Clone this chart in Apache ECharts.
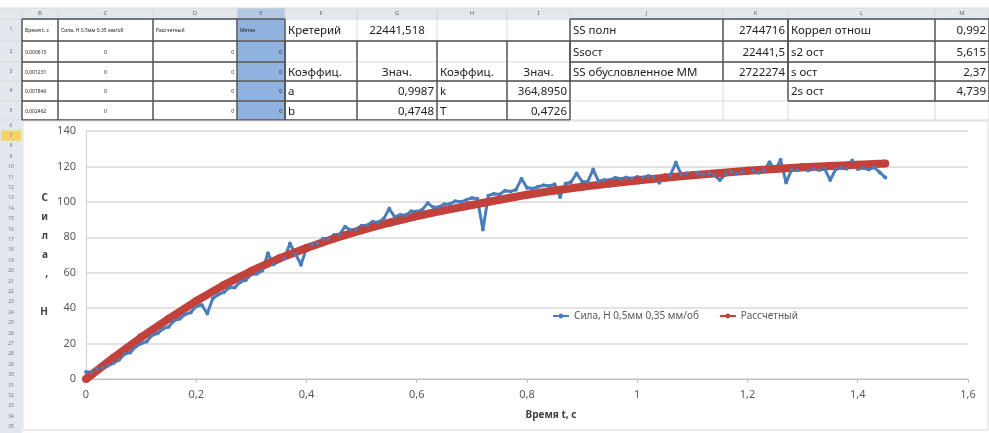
<!DOCTYPE html>
<html>
<head>
<meta charset="utf-8">
<script src="https://cdn.jsdelivr.net/npm/echarts@6/dist/echarts.min.js"></script>
<style>
  html, body { margin: 0; padding: 0; background: #fff; }
  #main { width: 989px; height: 433px; }
</style>
</head>
<body>
<div id="main"></div>
<script>
// measured force, H 0,5mm 0,35 mm/rev  [t, F]
var forceMeasured = [
  [0,4],[0.01,4],[0.02,5.8],[0.03,6.2],[0.04,7.6],[0.05,9],[0.06,10.8],[0.07,14.1],[0.08,14.9],[0.09,18.2],
  [0.1,20],[0.11,21.1],[0.12,24.7],[0.13,25.8],[0.14,28.4],[0.15,29.5],[0.16,33],[0.17,34],[0.18,36.5],[0.19,37.5],
  [0.2,41],[0.21,41.8],[0.22,37],[0.23,45.4],[0.24,47.7],[0.25,49],[0.26,51.6],[0.27,51.7],[0.28,54.8],[0.29,55.9],
  [0.3,59],[0.31,59.4],[0.32,61.3],[0.33,71],[0.34,64.6],[0.35,66.5],[0.36,68.2],[0.37,76.5],[0.38,70.6],[0.39,64.5],
  [0.4,74],[0.41,76.1],[0.42,76.6],[0.43,79.2],[0.44,79.2],[0.45,81.3],[0.46,81.7],[0.47,86],[0.48,84.1],[0.49,84.6],
  [0.5,86.5],[0.51,86.8],[0.52,88.7],[0.53,88.5],[0.54,90.4],[0.55,96.2],[0.56,91.5],[0.57,92.7],[0.58,92.5],[0.59,94.7],
  [0.6,94.5],[0.61,95.6],[0.62,99.3],[0.63,96.9],[0.64,97.1],[0.65,98.7],[0.66,98.8],[0.67,100.4],[0.68,100],[0.69,101.1],
  [0.7,102.2],[0.71,101.8],[0.72,84.4],[0.73,103.5],[0.74,104.6],[0.75,104.2],[0.76,106.3],[0.77,105.8],[0.78,106.9],[0.79,113],
  [0.8,108],[0.81,107.5],[0.82,108.5],[0.83,109.4],[0.84,108.9],[0.85,109.9],[0.86,102.8],[0.87,110.2],[0.88,111.2],[0.89,116],
  [0.9,111.5],[0.91,111.4],[0.92,118.2],[0.93,111.6],[0.94,112.4],[0.95,112.3],[0.96,113.6],[0.97,113],[0.98,113.8],[0.99,113.2],
  [1,114],[1.01,113.8],[1.02,114.6],[1.03,114],[1.04,110.8],[1.05,115.1],[1.06,114.9],[1.07,122.2],[1.08,115.4],[1.09,116.2],
  [1.1,115],[1.11,116.3],[1.12,115.5],[1.13,116.3],[1.14,115],[1.15,112.3],[1.16,115.5],[1.17,116.8],[1.18,116],[1.19,116.8],
  [1.2,116.5],[1.21,117.7],[1.22,116.4],[1.23,117.7],[1.24,122.4],[1.25,117.6],[1.26,123.8],[1.27,110.9],[1.28,118.1],[1.29,117.8],
  [1.3,118.5],[1.31,117.7],[1.32,118.8],[1.33,118],[1.34,118.6],[1.35,112.3],[1.36,118.4],[1.37,119.1],[1.38,118.7],[1.39,123.4],
  [1.4,118.5],[1.41,119.1],[1.42,118.3],[1.43,119.4],[1.44,116.6],[1.45,113.7]
];

// calculated curve [t, F]
var forceCalc = [
  [0,0],[0.05,12],[0.1,23.5],[0.15,34],[0.2,44],[0.25,53],[0.3,61],[0.35,68],[0.4,74],[0.45,79.3],
  [0.5,84],[0.55,88.2],[0.6,92],[0.65,95.2],[0.7,98.2],[0.75,101.2],[0.8,104],[0.85,106.4],[0.9,108.5],[0.95,110.3],
  [1,112],[1.05,113.6],[1.1,115],[1.15,116.3],[1.2,117.5],[1.25,118.6],[1.3,119.5],[1.35,120.3],[1.4,121],[1.45,121.7]
];

var seriesNames = ['Сила, Н 0,5мм 0,35 мм/об', 'Рассчетный'];

// spreadsheet above the chart
var colLetters = ['B', 'C', 'D', 'E', 'F', 'G', 'H', 'I', 'J', 'K', 'L', 'M'];
// [row, column, text, align, small]
var sheetCells = [
  [1, 'B', 'Время t, с', 'left', 1], [1, 'C', 'Сила, Н 0,5мм 0,35 мм/об', 'left', 1],
  [1, 'D', 'Рассчетный', 'left', 1], [1, 'E', 'Метки', 'left', 1],
  [1, 'F', 'Кретерий', 'left', 0], [1, 'G', '22441,518', 'center', 0],
  [1, 'J', 'SS полн', 'left', 0], [1, 'K', '2744716', 'right', 0],
  [1, 'L', 'Коррел отнош', 'left', 0], [1, 'M', '0,992', 'right', 0],
  [2, 'B', '0,000615', 'left', 1], [2, 'C', '0', 'center', 1], [2, 'D', '0', 'right', 1], [2, 'E', '0', 'right', 1],
  [2, 'J', 'Ssост', 'left', 0], [2, 'K', '22441,5', 'right', 0],
  [2, 'L', 's2 ост', 'left', 0], [2, 'M', '5,615', 'right', 0],
  [3, 'B', '0,001231', 'left', 1], [3, 'C', '0', 'center', 1], [3, 'D', '0', 'right', 1], [3, 'E', '0', 'right', 1],
  [3, 'F', 'Коэффиц.', 'left', 0], [3, 'G', 'Знач.', 'center', 0],
  [3, 'H', 'Коэффиц.', 'left', 0], [3, 'I', 'Знач.', 'center', 0],
  [3, 'J', 'SS обусловленное ММ', 'left', 0], [3, 'K', '2722274', 'right', 0],
  [3, 'L', 's ост', 'left', 0], [3, 'M', '2,37', 'right', 0],
  [4, 'B', '0,001846', 'left', 1], [4, 'C', '0', 'center', 1], [4, 'D', '0', 'right', 1], [4, 'E', '0', 'right', 1],
  [4, 'F', 'a', 'left', 0], [4, 'G', '0,9987', 'right', 0], [4, 'H', 'k', 'left', 0], [4, 'I', '364,8950', 'right', 0],
  [4, 'L', '2s ост', 'left', 0], [4, 'M', '4,739', 'right', 0],
  [5, 'B', '0,002462', 'left', 1], [5, 'C', '0', 'center', 1], [5, 'D', '0', 'right', 1], [5, 'E', '0', 'right', 1],
  [5, 'F', 'b', 'left', 0], [5, 'G', '0,4748', 'right', 0], [5, 'H', 'T', 'left', 0], [5, 'I', '0,4726', 'right', 0]
];

var colX = [0, 22, 58, 153, 237, 285, 357, 437, 507, 570, 723, 788, 935, 989];
var rowY = [8, 19, 41, 62, 81, 101, 120];
var font = '"Noto Sans", "DejaVu Sans", sans-serif';

function colIdx(l) { return colLetters.indexOf(l) + 1; }

function buildSheet() {
  var g = [];
  // header strip and row-number column
  g.push({ type: 'rect', shape: { x: 0, y: rowY[0], width: 989, height: rowY[1] - rowY[0] }, style: { fill: '#e3e8ee' } });
  g.push({ type: 'rect', shape: { x: 0, y: rowY[0], width: 22, height: 433 - rowY[0] }, style: { fill: '#e3e8ee' } });
  g.push({ type: 'rect', shape: { x: colX[4], y: rowY[0], width: colX[5] - colX[4], height: rowY[1] - rowY[0] }, style: { fill: '#b4c8e4' } });
  // selected column E
  g.push({ type: 'rect', shape: { x: colX[4], y: rowY[1], width: colX[5] - colX[4], height: rowY[6] - rowY[1] }, style: { fill: '#8fb2e0' } });

  // light grid
  var i;
  for (i = 1; i < colX.length; i++) {
    g.push({ type: 'line', shape: { x1: colX[i], y1: rowY[0], x2: colX[i], y2: rowY[6] }, style: { stroke: '#d6d9de', lineWidth: 1 } });
  }
  for (i = 0; i < rowY.length; i++) {
    g.push({ type: 'line', shape: { x1: 0, y1: rowY[i], x2: 989, y2: rowY[i] }, style: { stroke: '#d6d9de', lineWidth: 1 } });
  }

  // dark bordered blocks
  function box(c0, c1, r0, r1, skipRows) {
    var a = colIdx(c0), b = colIdx(c1) + 1, k;
    for (k = a; k <= b; k++) {
      g.push({ type: 'line', shape: { x1: colX[k], y1: rowY[r0], x2: colX[k], y2: rowY[r1 + 1] }, style: { stroke: '#505050', lineWidth: 1.4 } });
    }
    for (k = r0; k <= r1 + 1; k++) {
      if (skipRows && skipRows.indexOf(k) >= 0) continue;
      g.push({ type: 'line', shape: { x1: colX[a], y1: rowY[k], x2: colX[b], y2: rowY[k] }, style: { stroke: '#505050', lineWidth: 1.4 } });
    }
  }
  box('B', 'E', 1, 5);
  box('F', 'I', 2, 5, [3]);
  box('J', 'K', 1, 3);
  box('L', 'M', 1, 4);

  // column letters
  colLetters.forEach(function (l, k) {
    g.push({ type: 'text', x: (colX[k + 1] + colX[k + 2]) / 2, y: (rowY[0] + rowY[1]) / 2,
      style: { text: l, fontSize: 6, fontFamily: font, fill: '#666', align: 'center', verticalAlign: 'middle' } });
  });
  // row numbers
  for (i = 1; i <= 5; i++) {
    g.push({ type: 'text', x: 11, y: (rowY[i] + rowY[i + 1]) / 2,
      style: { text: String(i), fontSize: 5, fontFamily: font, fill: '#666', align: 'center', verticalAlign: 'middle' } });
  }
  for (i = 6; i <= 35; i++) {
    var yy = 120 + (i - 6) * 10.4;
    if (i === 7) {
      g.push({ type: 'rect', shape: { x: 1, y: yy, width: 20, height: 10.4 }, style: { fill: '#f6d36a' } });
    }
    g.push({ type: 'text', x: 11, y: yy + 5.2,
      style: { text: String(i), fontSize: 5, fontFamily: font, fill: '#777', align: 'center', verticalAlign: 'middle' } });
  }

  // cell texts
  sheetCells.forEach(function (c) {
    var k = colIdx(c[1]);
    var x = c[3] === 'left' ? colX[k] + 3 : c[3] === 'right' ? colX[k + 1] - 3 : (colX[k] + colX[k + 1]) / 2;
    g.push({ type: 'text', x: x, y: (rowY[c[0]] + rowY[c[0] + 1]) / 2 + 1,
      style: { text: c[2], fontSize: c[4] ? 5 : 11.5, fontFamily: font, fill: '#222', align: c[3], verticalAlign: 'middle' } });
  });

  // chart frame
  g.push({ type: 'rect', shape: { x: 23, y: 121, width: 965, height: 309 }, style: { fill: 'none', stroke: '#d9d9d9', lineWidth: 1 } });
  return g;
}

var myChart = echarts.init(document.getElementById('main'));
var option = {
  backgroundColor: '#fff',
  animation: false,
  graphic: { elements: buildSheet() },
  legend: {
    data: seriesNames,
    left: 547,
    top: 306,
    itemWidth: 16,
    itemHeight: 6,
    itemGap: 20,
    textStyle: { fontSize: 10, color: '#595959', fontFamily: font }
  },
  grid: { left: 86, right: 21, top: 131, bottom: 54 },
  xAxis: {
    type: 'value',
    min: 0,
    max: 1.6,
    interval: 0.2,
    name: 'Время t, с',
    nameLocation: 'middle',
    nameGap: 31,
    nameTextStyle: { fontSize: 10, fontWeight: 'bold', color: '#404040', fontFamily: font, padding: [0, 0, 0, 48] },
    axisLine: { lineStyle: { color: '#bfbfbf' } },
    axisTick: { show: true, length: 4, lineStyle: { color: '#bfbfbf' } },
    splitLine: { show: false },
    axisLabel: {
      fontSize: 11, color: '#595959', fontFamily: font, margin: 10,
      formatter: function (v) { return String(Math.round(v * 10) / 10).replace('.', ','); }
    }
  },
  yAxis: {
    type: 'value',
    min: 0,
    max: 140,
    interval: 20,
    name: 'С\nи\nл\nа\n,\n\nН',
    nameLocation: 'middle',
    nameRotate: 0,
    nameGap: 38,
    nameTextStyle: { fontSize: 10, fontWeight: 'bold', color: '#404040', fontFamily: font, lineHeight: 19 },
    axisLine: { show: true, lineStyle: { color: '#d0d0d0' } },
    axisTick: { show: false },
    splitLine: { lineStyle: { color: '#d9d9d9', width: 1.5 } },
    axisLabel: { fontSize: 11, color: '#595959', fontFamily: font, margin: 10 }
  },
  series: [
    {
      name: seriesNames[0],
      type: 'line',
      data: forceMeasured,
      color: '#4a7ebb',
      symbol: 'circle',
      symbolSize: 4,
      lineStyle: { width: 3 }
    },
    {
      name: seriesNames[1],
      type: 'line',
      data: forceCalc,
      color: '#c2413a',
      symbol: 'circle',
      symbolSize: 8,
      lineStyle: { width: 8 }
    }
  ]
};

if (option && typeof option === 'object') {
  myChart.setOption(option);
}
</script>
</body>
</html>
